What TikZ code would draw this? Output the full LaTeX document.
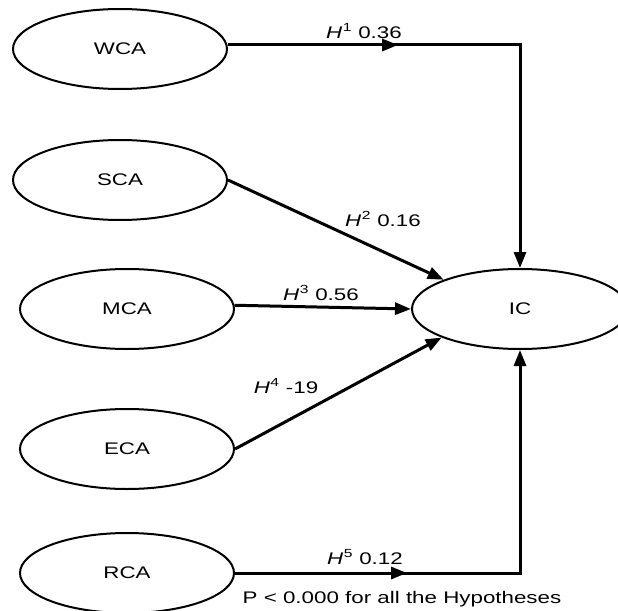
\documentclass[tikz,border=0pt]{standalone}
\usepackage{fontspec}
\setmainfont{Liberation Sans}
\usepackage{graphicx}
\usetikzlibrary{shapes.geometric,arrows.meta,decorations.markings}
\newcommand\wide[1]{\scalebox{1.33}[1]{#1}}
\newcommand\hyp[2]{\wide{\textit{H}\kern0.3pt\textsuperscript{#1} #2}}
\begin{document}
\begin{tikzpicture}[x=1pt,y=-1pt,
  constr/.style={draw, ellipse, line width=2pt, minimum width=214pt, minimum height=80pt, inner sep=0pt, font=\fontsize{16.8}{20}\selectfont},
  conn/.style={line width=3pt, line join=miter, -{Triangle[length=16pt,width=12pt]}},
  lbl/.style={anchor=base, inner sep=0pt, font=\fontsize{16.8}{20}\selectfont},
  midtip/.style={postaction={decorate}, decoration={markings, mark=at position #1 with {\arrow{Triangle[length=16pt,width=12pt]}}}}
]
\useasboundingbox (0,0) rectangle (618,610);

\node[constr] (WCA) at (120,49) {\wide{WCA}};
\node[constr] (SCA) at (120,180) {\wide{SCA}};
\node[constr] (MCA) at (127,309) {\wide{MCA}};
\node[constr] (ECA) at (127,449) {\wide{ECA}};
\node[constr] (RCA) at (127,573) {\wide{RCA}};
\node[constr, minimum width=216pt] (IC) at (520,309) {\wide{IC}};

\coordinate (c1) at (520,45);
\coordinate (c2) at (520,573);

\draw[conn, midtip=170pt] (WCA.east |- c1) -- (c1) -- (IC.north);
\draw[conn] (SCA.east) -- (IC.159);
\draw[conn] (MCA.2) -- (IC.west);
\draw[conn] (ECA.east) -- (IC.200);
\draw[conn, midtip=172pt] (RCA.east) -- (c2) -- (IC.south);

\node[lbl] (l1) at (364,38) {\hyp{1}{0.36}};
\node[lbl] (l2) at (383,226) {\hyp{2}{0.16}};
\node[lbl] (l3) at (321,300) {\hyp{3}{0.56}};
\node[lbl] (l4) at (286,393) {\hyp{4}{-19}};
\node[lbl] (l5) at (365,564) {\hyp{5}{0.12}};
\node[lbl] (note) at (402,603) {\wide{P < 0.000 for all the Hypotheses}};
\end{tikzpicture}
\end{document}
